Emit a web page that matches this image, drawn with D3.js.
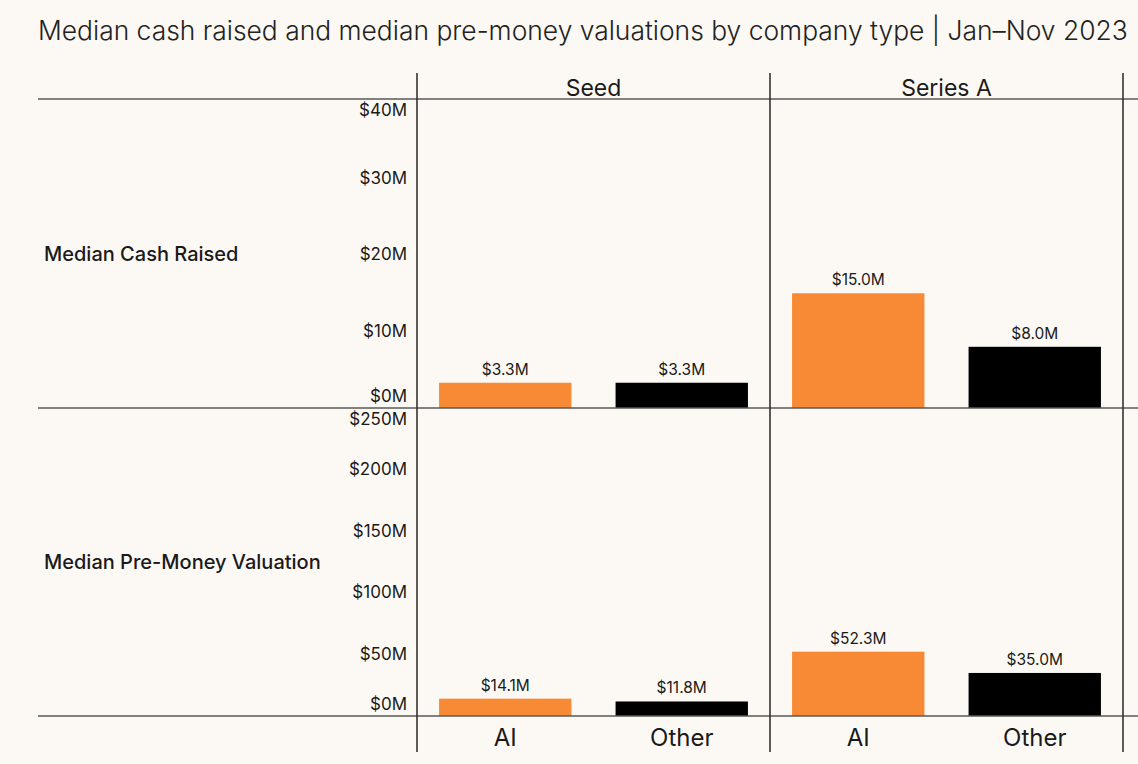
<!DOCTYPE html>
<html><head><meta charset="utf-8">
<script src="https://cdn.jsdelivr.net/npm/d3@7"></script>
<style>
  html,body{margin:0;padding:0;background:#fcf9f4;}
  svg{display:block;font-family:"Inter","Lato",sans-serif;}
</style></head>
<body>
<svg id="chart" width="1138" height="764"></svg>
<script>
// ---- data ----
const stages = ["Seed", "Series A"];
const companyTypes = ["AI", "Other"];
const metrics = ["Median Cash Raised", "Median Pre-Money Valuation"];
const cashRaisedAI = [3.3, 15.0];      // $M, per stage
const cashRaisedOther = [3.3, 8.0];
const valuationAI = [14.1, 52.3];
const valuationOther = [11.8, 35.0];
const cashTicks = [0, 10, 20, 30, 40];
const valuationTicks = [0, 50, 100, 150, 200, 250];
const titleText = "Median cash raised and median pre-money valuations by company type | Jan\u2013Nov 2023";

// ---- layout ----
const W = 1138, H = 764;
const left = 38, plotL = 417, plotR = 1123;
const headerTop = 73, rowTops = [99, 408], rowBottoms = [408, 716], footBottom = 752;
const colors = {AI: "#f98a35", Other: "#000000"};
const lineColor = "#585858";

const svg = d3.select("#chart");
svg.append("rect").attr("width", W).attr("height", H).attr("fill", "#fcf9f4");

// title
const title = svg.append("text").attr("x", left).attr("y", 40)
  .attr("fill", "#222").attr("font-size", 22).attr("font-weight", 300).text(titleText);
const tl = title.node().getComputedTextLength();
title.attr("font-size", 22 * 1090 / tl);

// scales
const xStage = d3.scaleBand().domain(stages).range([plotL, plotR]);
const xType = d3.scaleBand().domain(companyTypes).range([0, xStage.bandwidth()])
  .paddingInner(0.25).paddingOuter(0.125);
const yCash = d3.scaleLinear().domain([0, 40]).range([rowBottoms[0], 102]);
const yVal = d3.scaleLinear().domain([0, 250]).range([rowBottoms[1], 408.5]);

const rows = [
  {metric: metrics[0], y: yCash, ticks: cashTicks, ai: cashRaisedAI, other: cashRaisedOther, top: rowTops[0], bottom: rowBottoms[0]},
  {metric: metrics[1], y: yVal, ticks: valuationTicks, ai: valuationAI, other: valuationOther, top: rowTops[1], bottom: rowBottoms[1]}
];

// bars
rows.forEach(r => {
  const data = [];
  stages.forEach((s, i) => {
    data.push({stage: s, type: "AI", v: r.ai[i]});
    data.push({stage: s, type: "Other", v: r.other[i]});
  });
  const g = svg.append("g");
  g.selectAll("rect").data(data).join("rect")
    .attr("x", d => xStage(d.stage) + xType(d.type))
    .attr("width", xType.bandwidth())
    .attr("y", d => r.y(d.v))
    .attr("height", d => r.y(0) - r.y(d.v))
    .attr("fill", d => colors[d.type]);
  g.selectAll("text").data(data).join("text")
    .attr("x", d => xStage(d.stage) + xType(d.type) + xType.bandwidth() / 2)
    .attr("y", d => r.y(d.v) - 8)
    .attr("text-anchor", "middle").attr("font-size", 15.5).attr("fill", "#1a1a1a")
    .text(d => "$" + d3.format(".1f")(d.v) + "M");

  // axis
  const ax = svg.append("g").attr("transform", `translate(${plotL},0)`)
    .call(d3.axisLeft(r.y).tickValues(r.ticks).tickSize(0).tickPadding(10)
      .tickFormat(d => "$" + d + "M"));
  ax.select(".domain").remove();
  ax.selectAll(".tick").attr("transform", d => {
    const yy = Math.max(r.top + 12, Math.min(r.bottom - 11, r.y(d)));
    return `translate(0,${yy})`;
  });
  ax.selectAll("text").attr("font-size", 17).attr("fill", "#1a1a1a")
    .attr("font-family", "Inter, Lato, sans-serif");

  // row label
  svg.append("text").attr("x", 44).attr("y", (r.top + r.bottom) / 2).attr("dy", "0.35em")
    .attr("font-size", 20).attr("font-weight", 500).attr("fill", "#1a1a1a").text(r.metric);
});

// headers
svg.append("g").selectAll("text").data(stages).join("text")
  .attr("x", d => xStage(d) + xStage.bandwidth() / 2).attr("y", 96)
  .attr("text-anchor", "middle").attr("font-size", 23).attr("fill", "#1a1a1a").text(d => d);

// bottom category labels
const foot = [];
stages.forEach(s => companyTypes.forEach(t => foot.push({s, t})));
svg.append("g").selectAll("text").data(foot).join("text")
  .attr("x", d => xStage(d.s) + xType(d.t) + xType.bandwidth() / 2).attr("y", 746)
  .attr("text-anchor", "middle").attr("font-size", 24).attr("fill", "#1a1a1a").text(d => d.t);

// grid lines
const lines = svg.append("g").attr("stroke", lineColor).attr("stroke-width", 1.6);
[rowTops[0], rowBottoms[0], rowBottoms[1]].forEach(y =>
  lines.append("line").attr("x1", left).attr("x2", W).attr("y1", y).attr("y2", y));
[plotL, xStage("Series A"), plotR].forEach(x =>
  lines.append("line").attr("x1", x).attr("x2", x).attr("y1", headerTop).attr("y2", footBottom)
    .attr("stroke", "#333"));
</script>
</body></html>
